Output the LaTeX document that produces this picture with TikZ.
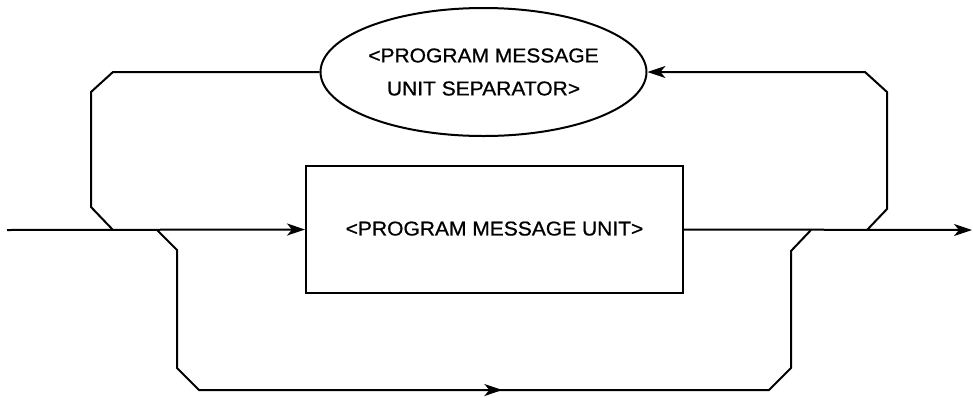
\documentclass[tikz,border=0pt]{standalone}
\usepackage{fontspec}
\setmainfont{Liberation Sans}[FakeStretch=1.05,FakeBold=0.8]
\usetikzlibrary{arrows.meta,shapes.geometric,decorations.markings}
\begin{document}
\begin{tikzpicture}[x=1pt,y=-1pt,
  line width=2pt,
  tip/.style={-{Stealth[length=18pt,width=12pt,inset=5pt]}},
  midtip/.style={decoration={markings,
      mark=at position #1 with {\arrow{Stealth[length=18pt,width=12pt,inset=5pt]}}},
    postaction={decorate}},
  unitbox/.style={draw,rectangle,minimum width=377pt,minimum height=127pt,
    inner sep=0pt,font=\fontsize{20}{24}\selectfont},
  sepoval/.style={draw,ellipse,minimum width=293pt,minimum height=128pt,
    inner sep=0pt,align=center,font=\fontsize{20}{33}\selectfont}]
\useasboundingbox (0,0) rectangle (973,397);

% the two syntax elements
\node[unitbox] (pmu) at (494.5,229.5) {\raisebox{2pt}{<PROGRAM MESSAGE UNIT>}};
\node[sepoval] (sep) at (483.5,72) {<PROGRAM MESSAGE\\UNIT SEPARATOR>};

% entry, exit and branch points on the main line
\coordinate (in)   at (7,230);
\coordinate (out)  at (972,230);
\coordinate (jl)   at (113,230);
\coordinate (jb)   at (157,230);
\coordinate (jbr)  at (811,230);
\coordinate (jr)   at (867,230);

% main line
\draw[tip] (in) -- (pmu.west);
\draw[tip] (pmu.east) -- (out);

% repeat loop through the separator
\draw[tip] (jr) -- (887,209) -- (887,92) -- (865,72) -- (sep.east);
\draw (sep.west) -- (113,72) -- (91,92) -- (91,207) -- (jl);

% bypass loop underneath
\draw[midtip=0.52] (jb) -- (177,250) -- (177,368) -- (199,390)
  -- (769,390) -- (791,368) -- (791,251) -- (jbr);
\end{tikzpicture}
\end{document}
